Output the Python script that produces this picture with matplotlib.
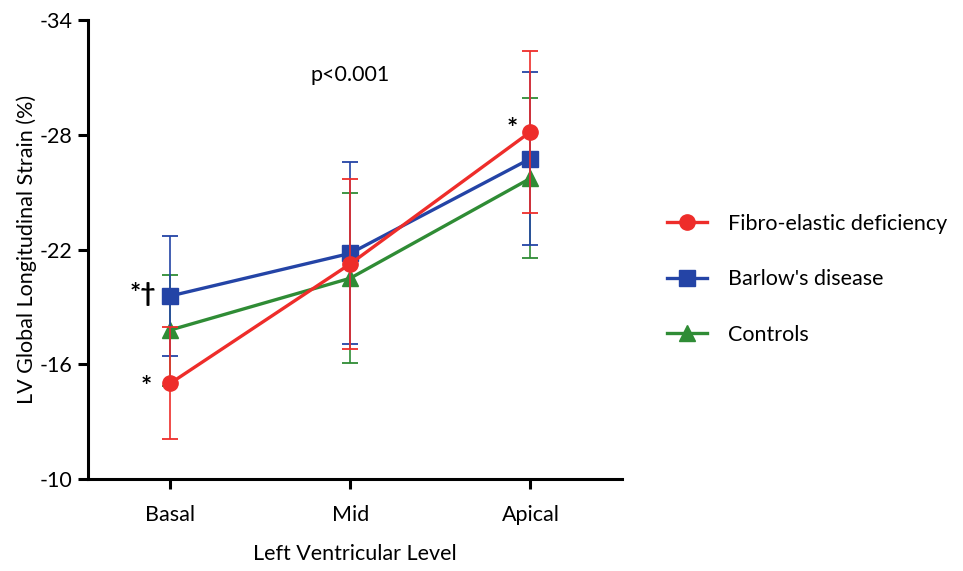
import matplotlib
matplotlib.use('Agg')
import matplotlib.pyplot as plt

# donnees (moyenne +/- ET)
levels = ['Basal', 'Mid', 'Apical']
fed_mean = [-15.0, -21.25, -28.15]
fed_sd = [2.93, 4.45, 4.22]
barlow_mean = [-19.57, -21.8, -26.75]
barlow_sd = [3.13, 4.75, 4.51]
ctrl_mean = [-17.79, -20.5, -25.72]
ctrl_sd = [2.9, 4.43, 4.18]

plt.rcParams['font.family'] = ['Lato', 'DejaVu Sans']
plt.rcParams['axes.unicode_minus'] = False

c_red = '#EE2D2A'
c_blue = '#2444A6'
c_green = '#2F8C35'
FS = 15.5

fig = plt.figure(figsize=(9.63, 5.71), dpi=100)
ax = fig.add_axes([0.0914, 0.161, 0.554, 0.804])

x = list(range(len(levels)))
series = [
    (ctrl_mean, ctrl_sd, c_green, '^', 'Controls', 2),
    (barlow_mean, barlow_sd, c_blue, 's', "Barlow's disease", 3),
    (fed_mean, fed_sd, c_red, 'o', 'Fibro-elastic deficiency', 4),
]
handles = {}
for m, s, col, mk, lab, z in series:
    h, = ax.plot(x, m, color=col, lw=2.4, marker=mk, markersize=11, zorder=z, label=lab)
    ax.errorbar(x, m, yerr=s, fmt='none', ecolor=col, elinewidth=1.2,
                capsize=6, capthick=1.3, zorder=z + 0.5)
    handles[lab] = h

ax.set_xlim(-0.456, 2.506)
ax.set_ylim(-10, -34)
ax.set_yticks([-10, -16, -22, -28, -34])
ax.set_xticks(x)
ax.set_xticklabels(levels)

for side in ['top', 'right']:
    ax.spines[side].set_visible(False)
for side in ['left', 'bottom']:
    ax.spines[side].set_linewidth(2.2)
ax.tick_params(axis='both', width=2.2, length=7, labelsize=FS, pad=4)
ax.tick_params(axis='x', pad=12)

ax.set_ylabel('LV Global Longitudinal Strain (%)', fontsize=FS, labelpad=2)
ax.set_xlabel('Left Ventricular Level', fontsize=FS, labelpad=13)

# annotations
ax.text(1, -31.1, 'p<0.001', fontsize=FS, ha='center', va='center')
ax.text(-0.08, -19.7, '*\u2020', fontsize=19, fontweight='bold', ha='right', va='center')
ax.text(-0.1, -14.8, '*', fontsize=19, fontweight='bold', ha='right', va='center')
ax.text(1.93, -28.3, '*', fontsize=19, fontweight='bold', ha='right', va='center')

order = ['Fibro-elastic deficiency', "Barlow's disease", 'Controls']
fig.legend([handles[k] for k in order], order, loc='upper left',
           bbox_to_anchor=(0.672, 0.66), frameon=False, fontsize=FS,
           handlelength=1.9, handletextpad=0.95, labelspacing=1.65)

plt.savefig('out.png', dpi=100)
